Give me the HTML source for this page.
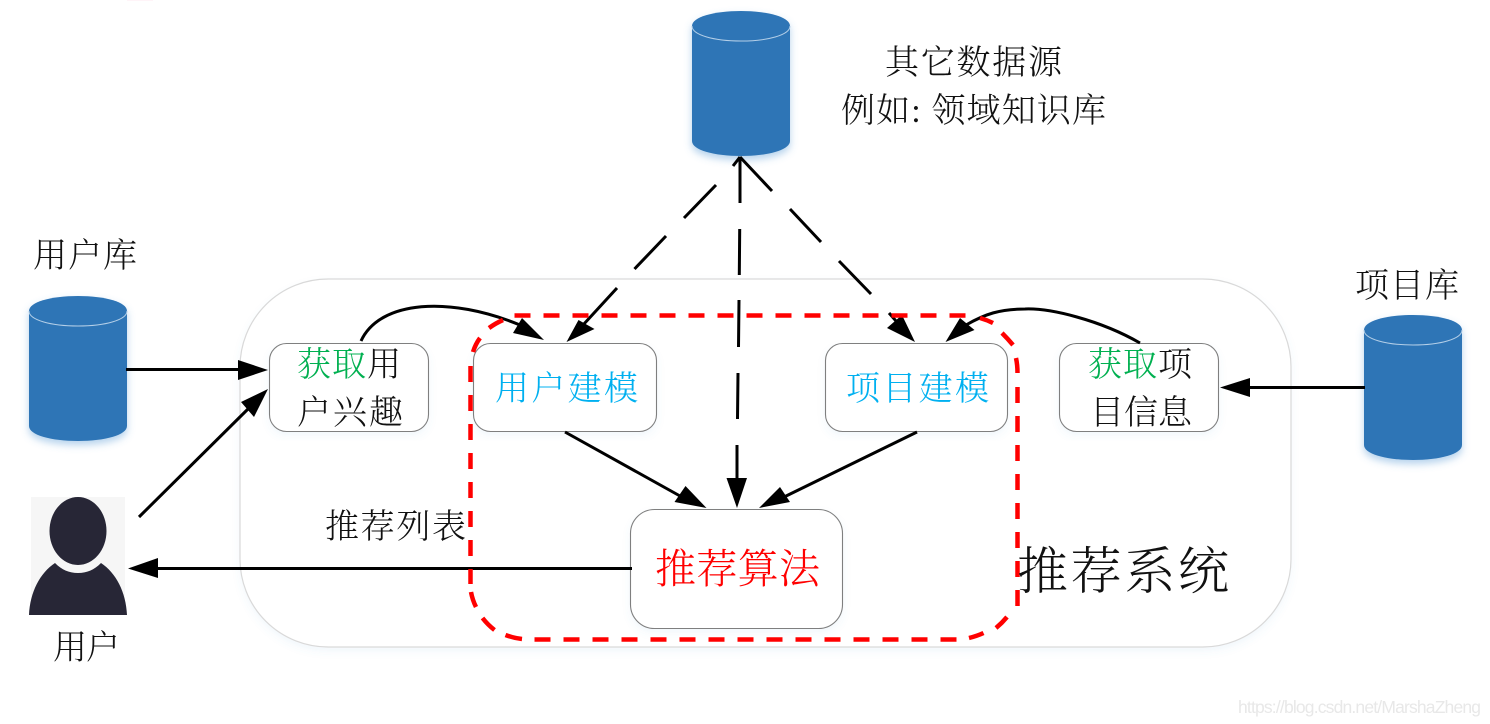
<!DOCTYPE html>
<html><head><meta charset="utf-8">
<style>
html,body{margin:0;padding:0;background:#fff;width:1490px;height:724px;overflow:hidden}
svg{display:block}
text{font-family:"Liberation Serif","Noto Serif CJK SC",serif;font-weight:300;fill:#111}
</style></head>
<body>
<svg width="1490" height="724" viewBox="0 0 1490 724" xmlns="http://www.w3.org/2000/svg">
<defs>
<filter id="sh" x="-20%" y="-20%" width="140%" height="140%"><feDropShadow dx="0" dy="4" stdDeviation="4" flood-color="#5b9bd5" flood-opacity=".45"/></filter>
<filter id="sl" x="-10%" y="-10%" width="120%" height="120%"><feDropShadow dx="0" dy="4" stdDeviation="4" flood-color="#5b9bd5" flood-opacity=".08"/></filter>
<g id="cyl">
<path d="M0 15C0 6 22 0 49 0S98 6 98 15V130C98 139 76 145 49 145S0 139 0 130Z" fill="#2e75b6" filter="url(#sh)"/>
<path d="M0 15C0 24 22 30 49 30S98 24 98 15" fill="none" stroke="#b4cfe8" stroke-width="1"/>
</g>
</defs>
<rect width="1490" height="724" fill="#fff"/>
<rect x="127" y="0" width="26" height="1" fill="#fff4f8"/>
<rect x="240" y="279" width="1051" height="368" rx="88" fill="#fff" stroke="#d9d9d9" stroke-width="1.2" filter="url(#sl)"/>

<use href="#cyl" x="29" y="296"/>
<use href="#cyl" x="692" y="11"/>
<use href="#cyl" x="1364" y="315"/>

<rect x="31" y="497" width="94" height="118" fill="#f6f6f6"/>
<path d="M29 615C30 592 40 573 55 563C62 570 69 573 78 573C87 573 94 570 101 563C116 573 126 592 127 615Z" fill="#272636"/>
<ellipse cx="78" cy="531" rx="28.5" ry="34" fill="#272636"/>

<g fill="#fff" stroke="#7f7f7f" stroke-width="1.1">
<rect x="269.500" y="343.500" width="159" height="88" rx="17" filter="url(#sl)"/>
<rect x="473.500" y="343.500" width="183" height="88" rx="17" filter="url(#sl)"/>
<rect x="825.500" y="343.500" width="182" height="88" rx="17" filter="url(#sl)"/>
<rect x="1059.500" y="343.500" width="159" height="88" rx="17" filter="url(#sl)"/>
<rect x="630.500" y="509.500" width="212" height="119" rx="24" filter="url(#sl)"/>
</g>

<g fill="none" stroke="#000" stroke-width="3">
<path d="M126 369.500H240"/>
<path d="M139 517L250 407"/>
<path d="M632 568.500H155"/>
<path d="M1365 387.500H1248"/>
<path d="M361 341C380 300 450 296 520 325"/>
<path d="M1140 343C1100 320 1050 308 1025 309C1000 309 985 314 966 325"/>
<path d="M565 432L689 501"/>
<path d="M917 432L782 498"/>
<path d="M716 185L684 218M666 236L634.500 269M617 288L583 325"/>
<path d="M740 157V203M739.700 229L739.300 275M739 300L738.500 347M738 373L737.500 419M737 445V482"/>
<path d="M740 157L772 191M790 209L821 242M839 261L871 294M889 313L896 321"/>
<path d="M733 166L740 157"/>
</g>
<g fill="#000">
<polygon points="268,370 238,360 238,380"/>
<polygon points="268,389 241,402 254,417"/>
<polygon points="128,568.500 158,558 158,578"/>
<polygon points="1220,387.500 1250,378 1250,397"/>
<polygon points="544,340 522,318 513,333"/>
<polygon points="566.500,342 578.500,320 594.500,329"/>
<polygon points="915,342 887,328 902,315"/>
<polygon points="945.500,342 960,318 974.500,330"/>
<polygon points="706.500,508 674.500,502 685.500,486"/>
<polygon points="737,508 726.500,478 747,478"/>
<polygon points="759,508 780,487 790,502"/>
</g>

<g fill="none" stroke="#f00" stroke-width="4.500">
<path d="M514.500 315.500H966" stroke-dasharray="16 13"/>
<path d="M534.500 639.500H957" stroke-dasharray="16 13"/>
<path d="M470.500 366V584" stroke-dasharray="16 13"/>
<path d="M1017.500 387V606" stroke-dasharray="16 13"/>
<path d="M473 352Q475.500 344 480 338"/>
<path d="M489 328Q496 323 503 320"/>
<path d="M471 592Q472.500 600 476 607"/>
<path d="M482.500 618Q488 625 494.500 630"/>
<path d="M505.500 635Q513 638 522 639"/>
<path d="M980 318Q987 320 993 323"/>
<path d="M1002 333Q1008 339 1013 345"/>
<path d="M1016 358Q1017.500 365 1017.500 373"/>
<path d="M996 628Q1002 623 1007 617"/>
<path d="M969 638Q977 636 983.500 633"/>
</g>

<text x="33" y="267" font-size="34" textLength="104">用户库</text>
<text x="53" y="659" font-size="34" textLength="67">用户</text>
<text x="1355" y="297" font-size="34" textLength="104">项目库</text>
<text x="885" y="74" font-size="34" textLength="177">其它数据源</text>
<text x="841" y="122" font-size="34" textLength="265">例如: 领域知识库</text>
<text x="325" y="538" font-size="34" textLength="141">推荐列表</text>
<text x="1017" y="589" font-size="51" textLength="212">推荐系统</text>

<text x="297" y="376" font-size="34" textLength="104"><tspan fill="#00b050">获取</tspan>用</text>
<text x="297" y="424" font-size="34" textLength="106">户兴趣</text>
<text x="1088" y="376" font-size="34" textLength="104"><tspan fill="#00b050">获取</tspan>项</text>
<text x="1090" y="424" font-size="34" textLength="102">目信息</text>
<text x="495" y="400" font-size="34" textLength="143" style="fill:#00b0f0">用户建模</text>
<text x="846" y="400" font-size="34" textLength="143" style="fill:#00b0f0">项目建模</text>
<text x="655" y="583" font-size="41" textLength="165" style="fill:#f00">推荐算法</text>

<text x="1238" y="713" font-size="17.500" style="font-family:'Liberation Sans',sans-serif;fill:#e8e8e8" textLength="243">https://blog.csdn.net/MarshaZheng</text>
</svg>
</body></html>
